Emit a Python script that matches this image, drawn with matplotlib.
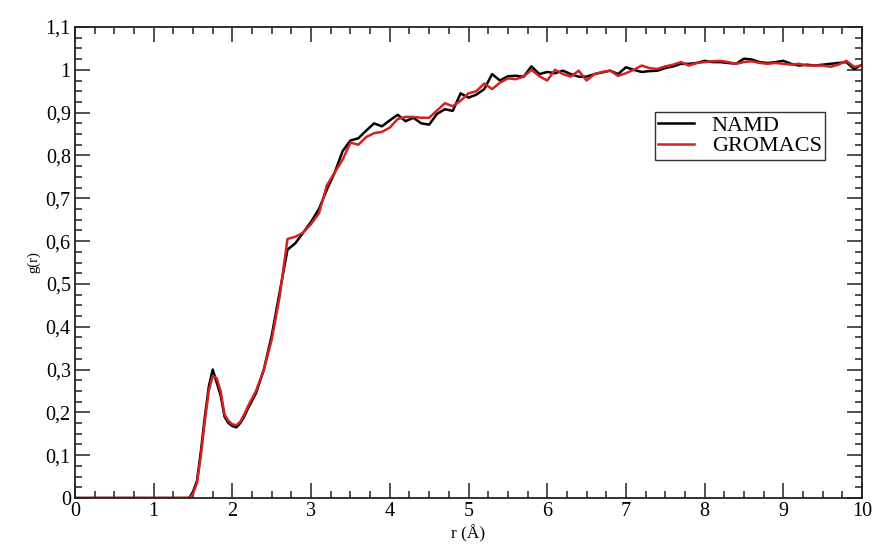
import matplotlib
matplotlib.use("Agg")
import matplotlib.pyplot as plt
from matplotlib.ticker import MultipleLocator, FuncFormatter

r = [0.0, 0.1, 0.2, 0.3, 0.4, 0.5, 0.6, 0.7, 0.8, 0.9, 1.0, 1.1, 1.2, 1.3, 1.4, 1.45,
     1.5, 1.55, 1.6, 1.65, 1.7, 1.75, 1.8, 1.85, 1.9, 1.95, 2.0, 2.05, 2.1, 2.15, 2.2,
     2.3, 2.4, 2.5, 2.6, 2.7, 2.8, 2.9, 3.0, 3.1, 3.2, 3.3, 3.4, 3.5, 3.6, 3.7, 3.8, 3.9,
     4.0, 4.1, 4.2, 4.3, 4.4, 4.5, 4.6, 4.7, 4.8, 4.9, 5.0, 5.1, 5.2, 5.3, 5.4, 5.5, 5.6,
     5.7, 5.8, 5.9, 6.0, 6.1, 6.2, 6.3, 6.4, 6.5, 6.6, 6.7, 6.8, 6.9, 7.0, 7.1, 7.2, 7.3,
     7.4, 7.5, 7.6, 7.7, 7.8, 7.9, 8.0, 8.1, 8.2, 8.3, 8.4, 8.5, 8.6, 8.7, 8.8, 8.9, 9.0,
     9.1, 9.2, 9.3, 9.4, 9.5, 9.6, 9.7, 9.8, 9.9, 10.0]

namd = [0, 0, 0, 0, 0, 0, 0, 0, 0, 0, 0, 0, 0, 0, 0, 0,
        0.015, 0.04, 0.11, 0.19, 0.26, 0.30, 0.27, 0.24, 0.19, 0.175, 0.168, 0.165, 0.175, 0.19, 0.21,
        0.245, 0.30, 0.38, 0.48, 0.58, 0.595, 0.62, 0.645, 0.675, 0.72, 0.76, 0.81, 0.835, 0.84, 0.858, 0.875, 0.868,
        0.882, 0.895, 0.88, 0.888, 0.875, 0.872, 0.897, 0.908, 0.904, 0.945, 0.935, 0.942, 0.955, 0.99, 0.975, 0.985, 0.986,
        0.984, 1.008, 0.99, 0.995, 0.992, 0.998, 0.99, 0.984, 0.984, 0.99, 0.994, 0.998, 0.99, 1.006, 1.0, 0.995, 0.997,
        0.998, 1.004, 1.008, 1.014, 1.014, 1.016, 1.021, 1.018, 1.018, 1.016, 1.014, 1.026, 1.024, 1.018, 1.016, 1.018, 1.021,
        1.014, 1.01, 1.012, 1.01, 1.012, 1.014, 1.016, 1.018, 1.002, 1.012]

gromacs = [0, 0, 0, 0, 0, 0, 0, 0, 0, 0, 0, 0, 0, 0, 0, 0,
           0.01, 0.035, 0.10, 0.18, 0.25, 0.285, 0.28, 0.25, 0.195, 0.18, 0.172, 0.17, 0.178, 0.195, 0.215,
           0.25, 0.30, 0.37, 0.47, 0.605, 0.61, 0.62, 0.64, 0.665, 0.73, 0.76, 0.79, 0.83, 0.825, 0.843, 0.852, 0.855,
           0.865, 0.885, 0.89, 0.89, 0.888, 0.888, 0.905, 0.922, 0.915, 0.928, 0.945, 0.95, 0.968, 0.955, 0.97, 0.98, 0.978,
           0.984, 1.0, 0.985, 0.975, 1.0, 0.99, 0.984, 0.998, 0.975, 0.99, 0.995, 0.998, 0.986, 0.992, 1.0, 1.01, 1.004,
           1.002, 1.008, 1.012, 1.018, 1.01, 1.016, 1.018, 1.02, 1.021, 1.018, 1.014, 1.018, 1.02, 1.016, 1.014, 1.016, 1.014,
           1.012, 1.014, 1.01, 1.01, 1.01, 1.007, 1.012, 1.021, 1.007, 1.01]

plt.rcParams['font.family'] = ['Liberation Serif', 'DejaVu Serif']

fig = plt.figure(figsize=(8.74, 5.45), dpi=100)
ax = fig.add_axes([75/874, 1-498/545, 787/874, 471/545])

ax.plot(r, namd, color='black', lw=1.8, label='NAMD')
ax.plot(r, gromacs, color='#d42222', lw=1.8, label='GROMACS')

ax.set_xlim(0, 10)
ax.set_ylim(0, 1.1)
ax.xaxis.set_major_locator(MultipleLocator(1))
ax.xaxis.set_minor_locator(MultipleLocator(0.25))
ax.yaxis.set_major_locator(MultipleLocator(0.1))
ax.yaxis.set_minor_locator(MultipleLocator(0.025))

def fmt(v, pos):
    s = ('%.1f' % v).rstrip('0').rstrip('.')
    return s.replace('.', ',')

ax.xaxis.set_major_formatter(FuncFormatter(fmt))
ax.yaxis.set_major_formatter(FuncFormatter(fmt))

ax.tick_params(which='both', direction='in', top=True, right=True, width=1.1, color='#222222')
ax.tick_params(which='major', length=10.5, labelsize=14.5, pad=3)
ax.tick_params(which='minor', length=5)
for s in ax.spines.values():
    s.set_linewidth(1.3)
    s.set_color('#222222')

ax.set_ylabel('g(r)', fontsize=10.5, labelpad=4)
ax.set_xlabel('r (Å)', fontsize=12.5, labelpad=2.5)

leg = ax.legend(loc='upper left', bbox_to_anchor=((655-75)/787, 1-(112-27)/471),
                fontsize=16, frameon=True, fancybox=False, edgecolor='black',
                handlelength=1.6, handletextpad=0.8, borderpad=0.15, labelspacing=0.0,
                borderaxespad=0)
leg.get_frame().set_linewidth(1.0)

fig.savefig('out.png', dpi=100)
